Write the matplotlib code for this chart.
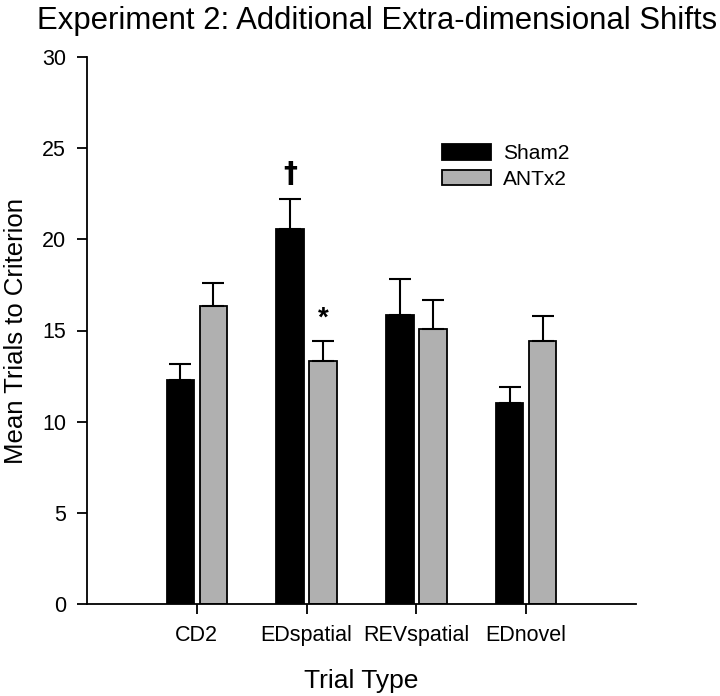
import numpy as np
import matplotlib
matplotlib.use('Agg')
from matplotlib import pyplot as plt

trial_types = ['CD2', 'EDspatial', 'REVspatial', 'EDnovel']
sham_means = [12.3, 20.55, 15.85, 11.0]
sham_sem = [0.85, 1.65, 1.95, 0.9]
antx_means = [16.35, 13.35, 15.1, 14.4]
antx_sem = [1.25, 1.1, 1.6, 1.4]
marks = ['\u2020', '*']

plt.rcParams['font.family'] = ['Liberation Sans', 'DejaVu Sans']

fig = plt.figure(figsize=(7.2, 6.96), dpi=100)
ax = fig.add_axes([87 / 720, 1 - 604 / 696, (636 - 87) / 720, (604 - 57) / 696])

x = np.arange(1, len(trial_types) + 1)
w = 0.25
err_kw = dict(ecolor='black', elinewidth=1.5, capsize=8, capthick=1.5)
ax.bar(x - 0.15, sham_means, w, color='black', edgecolor='black', linewidth=1.3,
       label='Sham2', yerr=[np.zeros(4), sham_sem], error_kw=err_kw)
ax.bar(x + 0.15, antx_means, w, color='#b0b0b0', edgecolor='black', linewidth=1.3,
       label='ANTx2', yerr=[np.zeros(4), antx_sem], error_kw=err_kw)

# significance marks above EDspatial
ax.text(x[1] - 0.15, sham_means[1] + sham_sem[1] + 1.4, marks[0], ha='center', va='center',
        fontsize=20, fontweight='bold', family=['DejaVu Sans'])
ax.text(x[1] + 0.15, antx_means[1] + antx_sem[1] + 1.2, marks[1], ha='center', va='center',
        fontsize=20, fontweight='bold')

ax.set_xlim(0, 5)
ax.set_ylim(0, 30)
ax.set_xticks(x)
ax.set_xticklabels(trial_types)
ax.set_yticks(range(0, 31, 5))
ax.tick_params(direction='out', length=7, width=1.3, labelsize=15.5, pad=8)
for s in ['top', 'right']:
    ax.spines[s].set_visible(False)
for s in ['left', 'bottom']:
    ax.spines[s].set_linewidth(1.3)

ax.set_xlabel('Trial Type', fontsize=19, labelpad=17)
ax.set_ylabel('Mean Trials to Criterion', fontsize=18.5, labelpad=10)

fig.text(377 / 720, 1 - 21 / 696, 'Experiment 2: Additional Extra-dimensional Shifts',
         ha='center', va='center', fontsize=22.4)

ax.legend(loc='upper left', bbox_to_anchor=((434 - 87) / 549, (604 - 136) / 547),
          frameon=False, fontsize=15, handlelength=2.35, handleheight=0.75,
          handletextpad=0.55, labelspacing=0.3, borderaxespad=0)

fig.savefig('out.png', dpi=100)
